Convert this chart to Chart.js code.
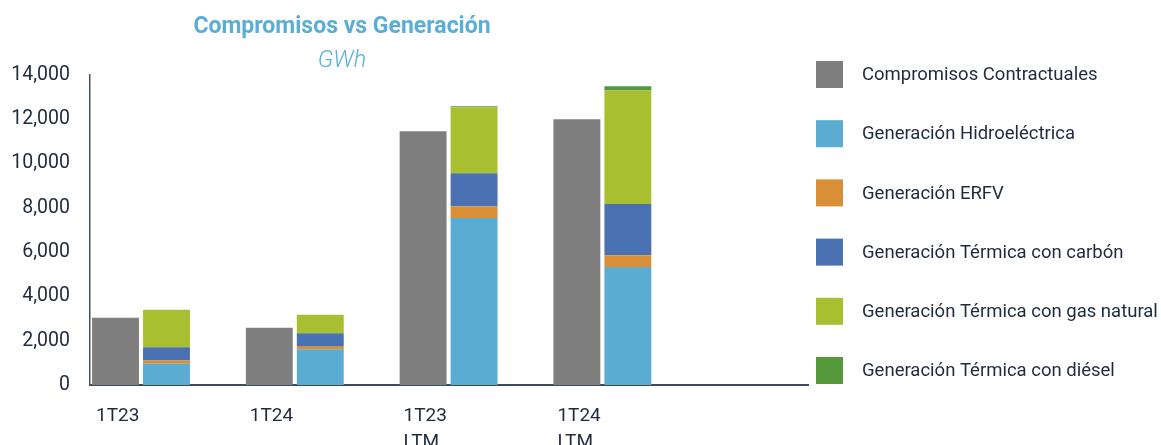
<!DOCTYPE html>
<html>
<head>
<meta charset="utf-8">
<script src="https://cdn.jsdelivr.net/npm/chart.js@4.4.1/dist/chart.umd.min.js"></script>
<style>
  html, body { margin: 0; padding: 0; background: #ffffff; }
  #wrap { position: relative; width: 1161px; height: 445px; overflow: hidden; }
  #chart { position: absolute; left: 0; top: 0; }
  .ttl { position: absolute; left: 142px; width: 400px; text-align: center; color: #5aaed6; font-family: Roboto, sans-serif; white-space: nowrap; }
  #t1 { top: 12px; font-size: 23px; font-weight: 700; }
  #t2 { top: 45px; font-size: 23.5px; font-style: italic; font-weight: 300; }
</style>
</head>
<body>
<div id="wrap">
  <canvas id="chart" width="1161" height="445"></canvas>
  <div class="ttl" id="t1">Compromisos vs Generación</div>
  <div class="ttl" id="t2">GWh</div>
</div>
<script>
// Categories (multi-line labels)
const categories = [["1T23"], ["1T24"], ["1T23", "LTM"], ["1T24", "LTM"]];

// Series values (GWh)
const compromisos    = [3040, 2590, 11460, 12000];
const hidroelectrica = [955, 1610, 7545, 5325];
const erfv           = [150, 155, 527, 540];
const carbon         = [600, 570, 1488, 2310];
const gasNatural     = [1690, 840, 2985, 5120];
const diesel         = [0, 0, 45, 195];

// Y tick values
const yTicks = [0, 2000, 4000, 6000, 8000, 10000, 12000, 14000];

const seriesLabels = [
  "Compromisos Contractuales",
  "Generación Hidroeléctrica",
  "Generación ERFV",
  "Generación Térmica con carbón",
  "Generación Térmica con gas natural",
  "Generación Térmica con diésel"
];
const seriesColors = ["#7f7f7f", "#5aacd3", "#d98f35", "#4a71b2", "#a8bf30", "#55993b"];
const seriesData = [compromisos, hidroelectrica, erfv, carbon, gasNatural, diesel];
const seriesStack = ["c", "g", "g", "g", "g", "g"];

const textColor = "#1f2b3d";

const datasets = seriesData.map((vals, k) => ({
  label: seriesLabels[k],
  data: vals.map((v, i) => ({ x: i, y: v })),
  backgroundColor: seriesColors[k],
  stack: seriesStack[k],
  borderWidth: 0,
  categoryPercentage: 0.663,
  barPercentage: 0.92
}));

const legendPlugin = {
  id: "sideLegend",
  afterDraw(chart) {
    const ctx = chart.ctx;
    ctx.save();
    const x0 = 816, top0 = 61, step = 59.2, box = 27;
    ctx.font = "18.5px Roboto, sans-serif";
    ctx.textBaseline = "middle";
    ctx.textAlign = "left";
    chart.data.datasets.forEach((ds, i) => {
      const y = top0 + i * step;
      ctx.fillStyle = ds.backgroundColor;
      ctx.fillRect(x0, y, box, box);
      ctx.fillStyle = textColor;
      ctx.fillText(ds.label, 862, y + box / 2 + 1);
    });
    ctx.restore();
  }
};

new Chart(document.getElementById("chart"), {
  type: "bar",
  data: { datasets },
  plugins: [legendPlugin],
  options: {
    responsive: false,
    animation: false,
    layout: { padding: { left: 0, right: 353, top: 75, bottom: 0 } },
    plugins: { legend: { display: false }, tooltip: { enabled: false }, title: { display: false } },
    scales: {
      x: {
        type: "linear",
        offset: false,
        min: -0.3316,
        max: 4.337,
        grid: { display: false, drawTicks: false },
        border: { display: true, color: "#3d4b5c", width: 2 },
        afterBuildTicks: (s) => { s.ticks = categories.map((_, i) => ({ value: i })); },
        afterFit: (s) => { s.height = 60; },
        ticks: {
          autoSkip: false,
          maxRotation: 0,
          align: "start",
          labelOffset: -45,
          padding: 18,
          color: textColor,
          font: { family: "Roboto, sans-serif", size: 19, lineHeight: 1.37 },
          callback: (v) => categories[v] || ""
        }
      },
      y: {
        min: 0,
        max: 14000,
        grid: { display: false, drawTicks: false },
        border: { display: true, color: "#4a5564", width: 1.5 },
        afterBuildTicks: (s) => { s.ticks = yTicks.map(v => ({ value: v })); },
        afterFit: (s) => { s.width = 90; },
        ticks: {
          padding: 20,
          color: textColor,
          font: { family: "Roboto, sans-serif", size: 19.5 },
          callback: (v) => v.toLocaleString("en-US")
        }
      }
    }
  }
});
</script>
</body>
</html>
